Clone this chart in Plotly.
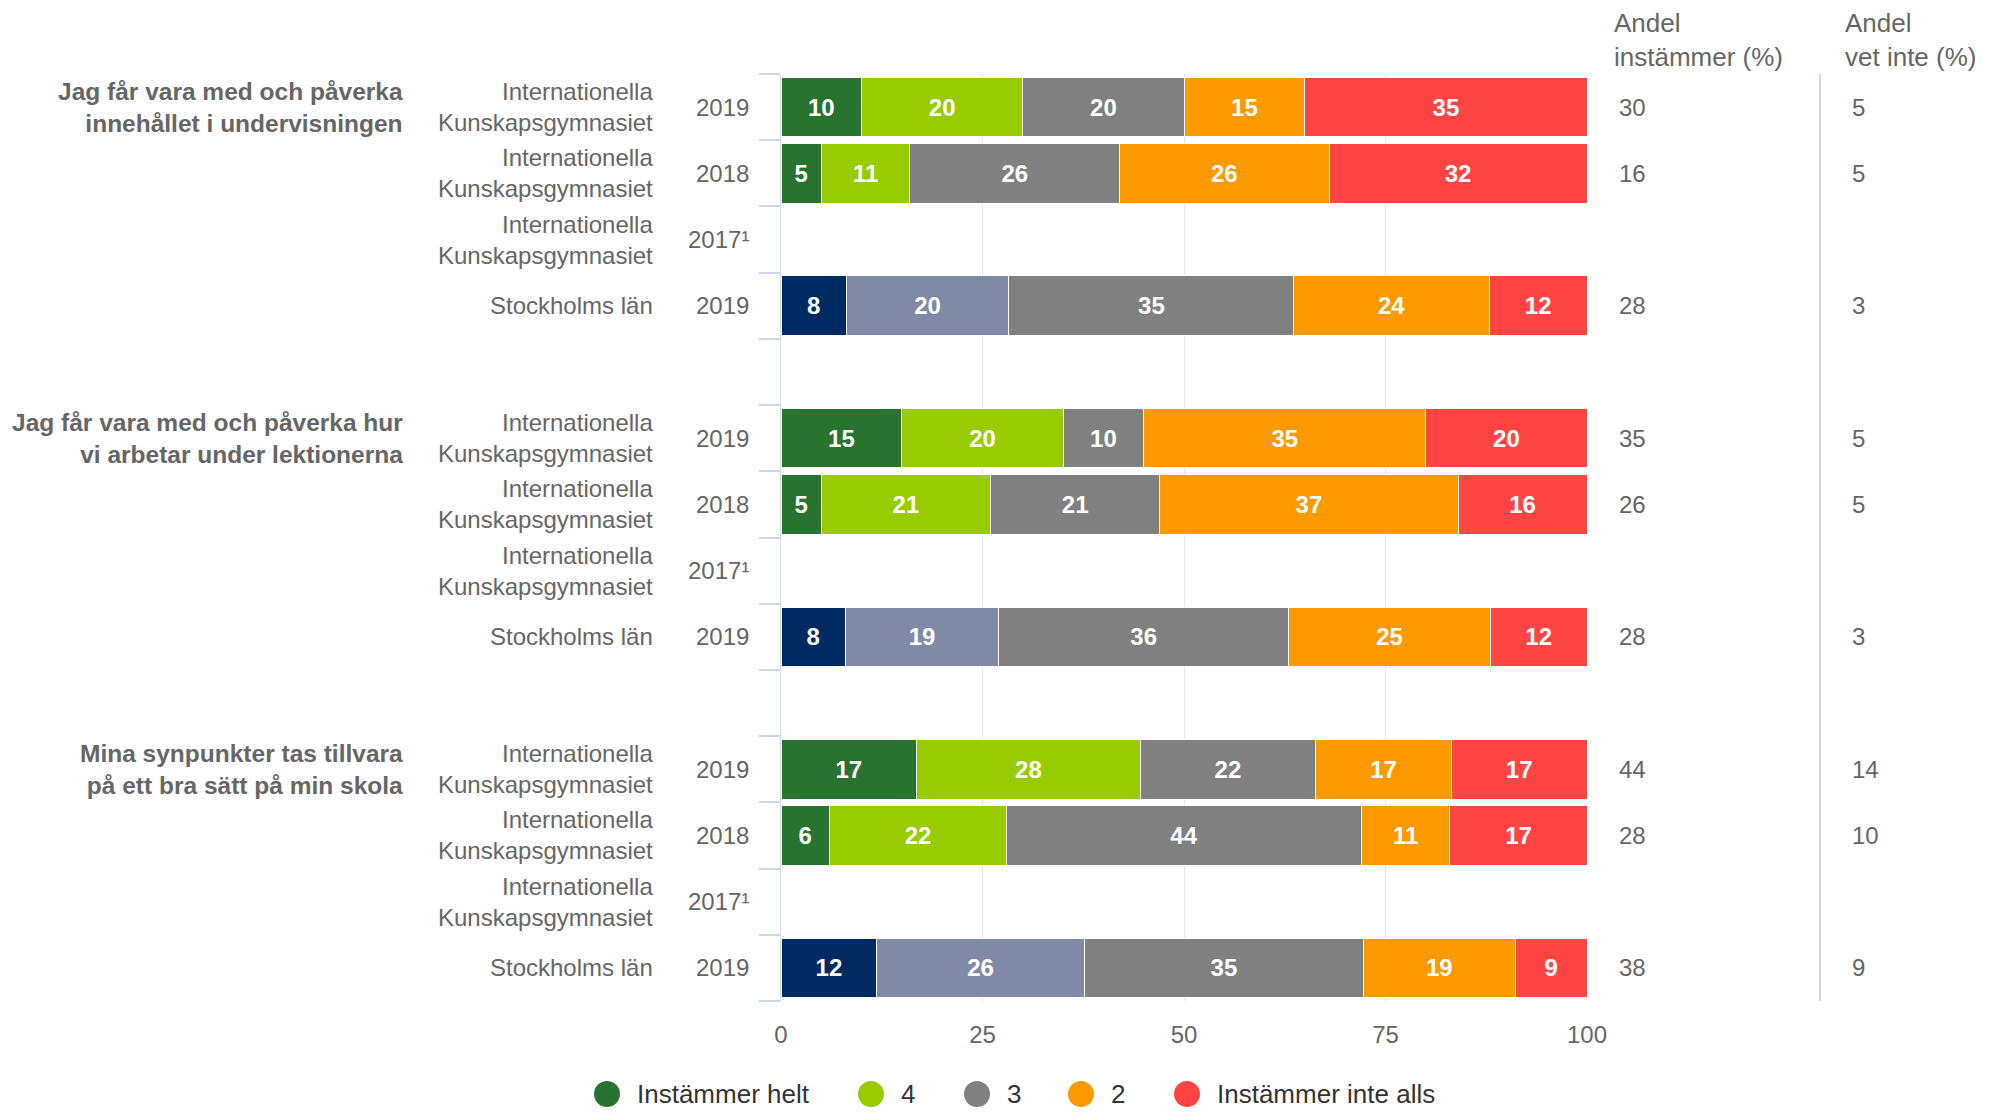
import plotly.graph_objects as go

# ---------------- data ----------------
questions = [
    "Jag får vara med och påverka<br>innehållet i undervisningen",
    "Jag får vara med och påverka hur<br>vi arbetar under lektionerna",
    "Mina synpunkter tas tillvara<br>på ett bra sätt på min skola",
]
units = [
    "Internationella<br>Kunskapsgymnasiet",
    "Internationella<br>Kunskapsgymnasiet",
    "Internationella<br>Kunskapsgymnasiet",
    "Stockholms län",
]
years = ["2019", "2018", "2017¹", "2019"]
region_unit = "Stockholms län"

series_names = ["Instämmer helt", "4", "3", "2", "Instämmer inte alls"]
helt = [10, 5, None, 8, 15, 5, None, 8, 17, 6, None, 12]
fyra = [20, 11, None, 20, 20, 21, None, 19, 28, 22, None, 26]
tre = [20, 26, None, 35, 10, 21, None, 36, 22, 44, None, 35]
tva = [15, 26, None, 24, 35, 37, None, 25, 17, 11, None, 19]
inte_alls = [35, 32, None, 12, 20, 16, None, 12, 17, 17, None, 9]
andel_instammer = [30, 16, None, 28, 35, 26, None, 28, 44, 28, None, 38]
andel_vet_inte = [5, 5, None, 3, 5, 5, None, 3, 14, 10, None, 9]
x_ticks = [0, 25, 50, 75, 100]

series_values = [helt, fyra, tre, tva, inte_alls]

# ---------------- style / layout ----------------
PAGE_W, PAGE_H = 1994, 1120
OFF = 8  # default page body margin
W, H = PAGE_W - 2 * OFF, PAGE_H - 2 * OFF
# plot area in page pixels
PLOT_L, PLOT_R, PLOT_T, PLOT_B = 781, 1587, 74, 1001
FONT = "Liberation Sans, Arial, sans-serif"
LABEL = "#666666"
main_colors = ["#27732F", "#99CC00", "#808080", "#FF9900", "#FF4444"]
region_colors = {0: "#002B62", 1: "#808AA6"}


def px_x(x):
    return (x - OFF) / W


def px_y(y):
    return (PLOT_B - y) / (PLOT_B - PLOT_T)


n_groups = len(questions)
per_group = len(units)
row_y = [g * (per_group + 1) + r for g in range(n_groups) for r in range(per_group)]
row_unit = [units[r] for g in range(n_groups) for r in range(per_group)]
n_slots = n_groups * (per_group + 1) - 1

fig = go.Figure()
for i, (name, vals) in enumerate(zip(series_names, series_values)):
    keep = [k for k, v in enumerate(vals) if v is not None]
    ys = [row_y[k] for k in keep]
    xs = [vals[k] for k in keep]
    cols = [
        region_colors[i] if (row_unit[k] == region_unit and i in region_colors) else main_colors[i]
        for k in keep
    ]
    fig.add_trace(go.Bar(
        y=ys, x=xs, orientation="h", name=name,
        marker=dict(color=cols, line=dict(color="white", width=1)),
        text=[str(v) for v in xs],
        textposition="inside", insidetextanchor="middle",
        textfont=dict(family=FONT, size=24, color="white", weight="bold"),
        constraintext="none",
        showlegend=False,
        hovertemplate="%{text}<extra>" + name + "</extra>",
    ))

annotations = []
# group labels
for g, q in enumerate(questions):
    annotations.append(dict(
        x=px_x(405), xref="paper", y=g * (per_group + 1), yref="y",
        text=q, showarrow=False, xanchor="right", yanchor="middle", align="right",
        font=dict(family=FONT, size=24.5, color=LABEL, weight="bold"),
    ))
# unit and year labels, right-hand values
for idx, y in enumerate(row_y):
    r = idx % per_group
    annotations.append(dict(
        x=px_x(655), xref="paper", y=y, yref="y", text=units[r], showarrow=False,
        xanchor="right", yanchor="middle", align="right",
        font=dict(family=FONT, size=24, color=LABEL),
    ))
    annotations.append(dict(
        x=px_x(751), xref="paper", y=y, yref="y", text=years[r], showarrow=False,
        xanchor="right", yanchor="middle", align="right",
        font=dict(family=FONT, size=24, color=LABEL),
    ))
    if andel_instammer[idx] is not None:
        annotations.append(dict(
            x=px_x(1617), xref="paper", y=y, yref="y", text=str(andel_instammer[idx]),
            showarrow=False, xanchor="left", yanchor="middle",
            font=dict(family=FONT, size=24, color=LABEL),
        ))
    if andel_vet_inte[idx] is not None:
        annotations.append(dict(
            x=px_x(1850), xref="paper", y=y, yref="y", text=str(andel_vet_inte[idx]),
            showarrow=False, xanchor="left", yanchor="middle",
            font=dict(family=FONT, size=24, color=LABEL),
        ))
# column headers
for hx, ht in [(1612, "Andel<br>instämmer (%)"), (1843, "Andel<br>vet inte (%)")]:
    annotations.append(dict(
        x=px_x(hx), xref="paper", y=px_y(40), yref="paper", text=ht, showarrow=False,
        xanchor="left", yanchor="middle", align="left",
        font=dict(family=FONT, size=26, color=LABEL),
    ))

shapes = [dict(
    type="line", xref="paper", yref="paper", x0=px_x(1820), x1=px_x(1820),
    y0=0, y1=1, line=dict(color="#CCD6EB", width=2),
)]

# manual legend with circle markers
legend_x = [607, 871, 977, 1081, 1187]
legend_y = 1094
R = 13
for lx, name, col in zip(legend_x, series_names, main_colors):
    shapes.append(dict(
        type="circle", xref="paper", yref="paper",
        x0=px_x(lx - R), x1=px_x(lx + R), y0=px_y(legend_y + R), y1=px_y(legend_y - R),
        fillcolor=col, line=dict(width=0),
    ))
    annotations.append(dict(
        x=px_x(lx + R + 15), xref="paper", y=px_y(legend_y), yref="paper", text=name,
        showarrow=False, xanchor="left", yanchor="middle",
        font=dict(family=FONT, size=26, color="#333333"),
    ))

fig.update_layout(
    width=W, height=H,
    margin=dict(l=0, r=0, t=PLOT_T - OFF, b=H - (PLOT_B - OFF), autoexpand=False),
    paper_bgcolor="white", plot_bgcolor="white",
    barmode="stack", barnorm="percent", bargap=0.1,
    uniformtext=dict(minsize=24, mode="show"),
    showlegend=False,
    annotations=annotations, shapes=shapes,
    font=dict(family=FONT, color=LABEL),
    xaxis=dict(
        domain=[px_x(PLOT_L), px_x(PLOT_R)], range=[0, 100], tickvals=x_ticks,
        showgrid=True, gridcolor="#E6E6E6", gridwidth=1, zeroline=False, showline=False,
        ticks="", tickfont=dict(family=FONT, size=24, color=LABEL),
        ticklabelstandoff=17, automargin=False,
    ),
    yaxis=dict(
        range=[n_slots - 0.5, -0.5], tickvals=[v - 0.5 for v in range(n_slots + 1)],
        showticklabels=False, ticks="outside", ticklen=21, tickcolor="#CCD6EB", tickwidth=2,
        showgrid=False, zeroline=False, showline=True, linecolor="#D5DCE8", linewidth=1,
        automargin=False,
    ),
)

fig.write_html("out.html")
